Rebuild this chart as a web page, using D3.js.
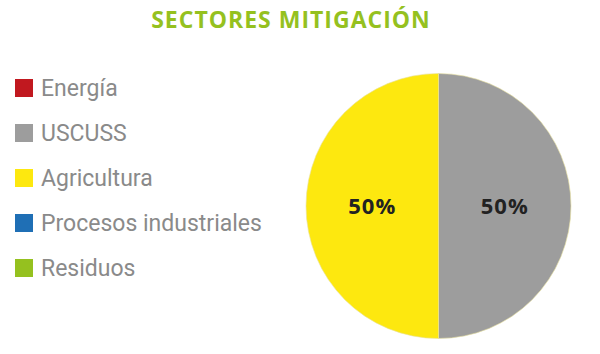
<!DOCTYPE html>
<html>
<head>
<meta charset="utf-8">
<script src="https://cdn.jsdelivr.net/npm/d3@7"></script>
<style>
  body { margin: 0; background: #fff; }
  svg { display: block; }
</style>
</head>
<body>
<svg id="chart" width="600" height="354"></svg>
<script>
const categories = ["Energía", "USCUSS", "Agricultura", "Procesos industriales", "Residuos"]
const values = [0, 50, 50, 0, 0]
const colors = ["#c1181f", "#9d9d9d", "#fde80f", "#1f6fb5", "#95c11f"]
const title = "SECTORES MITIGACIÓN"

const svg = d3.select("#chart")

svg.append("text")
   .attr("x", 291)
   .attr("y", 28)
   .attr("text-anchor", "middle")
   .attr("font-family", "'Open Sans', sans-serif")
   .attr("font-weight", 700)
   .attr("font-size", 23)
   .attr("letter-spacing", 1)
   .attr("fill", "#95c11f")
   .text(title)

// legend
const legendY = d3.scalePoint().domain(categories).range([88, 268])
const legend = svg.append("g").selectAll("g")
   .data(categories)
   .join("g")
   .attr("transform", d => `translate(15,${legendY(d)})`)
legend.append("rect")
   .attr("x", 0).attr("y", -9)
   .attr("width", 18).attr("height", 18)
   .attr("fill", (d, i) => colors[i])
legend.append("text")
   .attr("x", 26)
   .attr("y", 0)
   .attr("dy", "0.35em")
   .attr("font-family", "Roboto, sans-serif")
   .attr("font-size", 23)
   .attr("fill", "#8a8a8a")
   .text(d => d)

// pie
const radius = 132.5
const pie = d3.pie().sort(null).value(d => d.value)
const arc = d3.arc().innerRadius(0).outerRadius(radius)
const data = categories.map((c, i) => ({ name: c, value: values[i], color: colors[i] }))
const arcs = pie(data).filter(d => d.data.value > 0)

const g = svg.append("g").attr("transform", "translate(438.5,206)")
g.selectAll("path")
   .data(arcs)
   .join("path")
   .attr("d", arc)
   .attr("fill", d => d.data.color)
   .attr("stroke", "#e8e0a0")
   .attr("stroke-width", 0.6)

g.selectAll("text")
   .data(arcs)
   .join("text")
   .attr("transform", d => `translate(${arc.centroid(d)})`)
   .attr("text-anchor", "middle")
   .attr("dy", "0.36em")
   .attr("font-family", "'Open Sans', sans-serif")
   .attr("font-weight", 700)
   .attr("font-size", 22)
   .attr("letter-spacing", 1)
   .attr("fill", "#222")
   .text(d => d3.format(".0f")(d.data.value / d3.sum(values) * 100) + "%")
</script>
</body>
</html>
